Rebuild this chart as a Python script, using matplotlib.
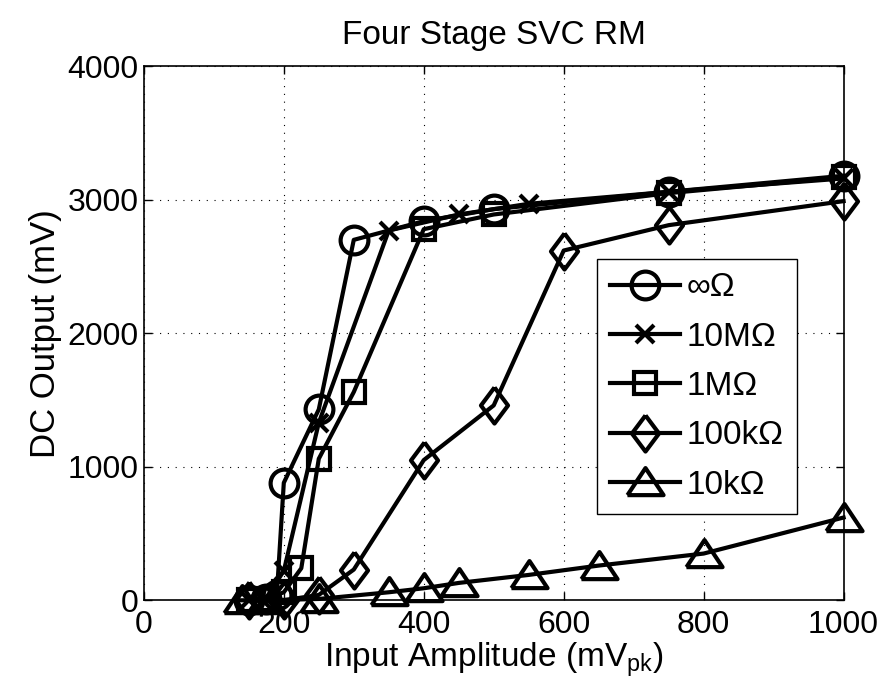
import matplotlib
matplotlib.use('Agg')
import matplotlib.pyplot as plt

# Data (Input amplitude mV_pk vs DC output mV)
x_inf = [150, 175, 190, 200, 250, 300, 400, 500, 750, 1000]
y_inf = [0, 10, 40, 880, 1430, 2700, 2840, 2930, 3060, 3180]

x_10M = [150, 175, 200, 250, 350, 450, 550, 750, 1000]
y_10M = [0, 20, 220, 1330, 2770, 2890, 2970, 3060, 3160]

x_1M = [150, 175, 200, 225, 250, 300, 400, 500, 750, 1000]
y_1M = [0, 10, 60, 240, 1060, 1560, 2780, 2890, 3050, 3170]

x_100k = [150, 200, 250, 300, 400, 500, 600, 750, 1000]
y_100k = [0, 0, 40, 230, 1050, 1460, 2620, 2810, 2990]

x_10k = [140, 175, 250, 350, 400, 450, 550, 650, 800, 1000]
y_10k = [0, 0, 10, 60, 90, 130, 190, 260, 350, 620]

labels = ['∞Ω', '10MΩ', '1MΩ', '100kΩ', '10kΩ']

plt.rcParams['font.family'] = ['Liberation Sans', 'DejaVu Sans']
plt.rcParams['mathtext.default'] = 'regular'

# custom marker shapes (MATLAB-like diamond and triangle)
diamond = [(0, 1), (0.75, 0), (0, -1), (-0.75, 0), (0, 1)]
triangle = [(-1, -0.7), (1, -0.7), (0, 0.8), (-1, -0.7)]

fig = plt.figure(figsize=(8.88, 6.98), dpi=100)
ax = fig.add_axes([0.162, 0.140, 0.788, 0.765])

style = dict(color='black', lw=3, mfc='none', mec='black', mew=3, clip_on=False, zorder=3)
ax.plot(x_inf, y_inf, marker='o', ms=20, label=labels[0], **style)
ax.plot(x_10M, y_10M, marker='x', ms=13, label=labels[1], **style)
ax.plot(x_1M, y_1M, marker='s', ms=16, label=labels[2], **style)
ax.plot(x_100k, y_100k, marker=diamond, ms=26, label=labels[3], **style)
ax.plot(x_10k, y_10k, marker=triangle, ms=26, label=labels[4], **style)

ax.set_xlim(0, 1000)
ax.set_ylim(0, 4000)
ax.set_xticks([0, 200, 400, 600, 800, 1000])
ax.set_yticks([0, 1000, 2000, 3000, 4000])
ax.tick_params(direction='in', top=True, right=True, length=6, width=1, labelsize=23)
ax.tick_params(axis='x', pad=7)
ax.tick_params(axis='y', pad=4)
for s in ax.spines.values():
    s.set_linewidth(1.2)
    s.set_zorder(4)
ax.grid(True, color='black', linestyle=(0, (1, 6)), linewidth=0.8)

ax.set_title('Four Stage SVC RM', fontsize=24, pad=16)
ax.set_xlabel('Input Amplitude (mV$_{pk}$)', fontsize=24, labelpad=0)
ax.set_ylabel('DC Output (mV)', fontsize=25, labelpad=4)

leg = ax.legend(loc='upper left', bbox_to_anchor=(0.647, 0.639), borderaxespad=0,
                fontsize=24, fancybox=False, framealpha=1, edgecolor='black',
                handlelength=2.1, labelspacing=0.55, handletextpad=0.2, borderpad=0.4)
leg.get_frame().set_linewidth(1)
leg.set_zorder(5)

fig.savefig('out.png', dpi=100)
